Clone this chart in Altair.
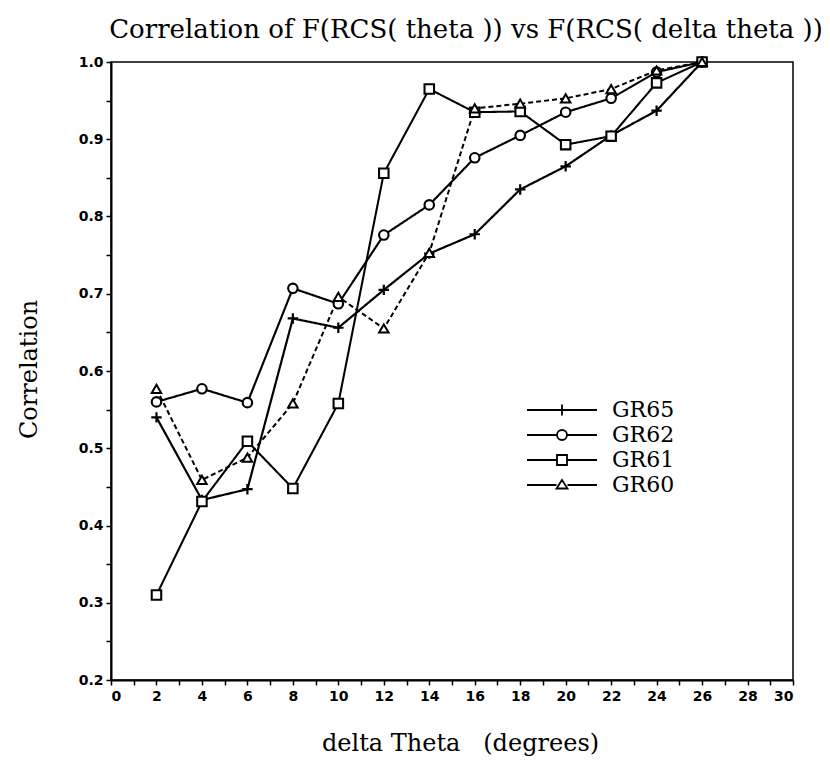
import altair as alt
import pandas as pd

# Angular offset between the two RCS patterns (degrees)
delta_theta = [2, 4, 6, 8, 10, 12, 14, 16, 18, 20, 22, 24, 26]

# Correlation coefficient for each target
gr65 = [0.540, 0.433, 0.447, 0.668, 0.656, 0.705, 0.752, 0.777, 0.835, 0.865, 0.905, 0.937, 1.000]
gr62 = [0.560, 0.577, 0.559, 0.707, 0.687, 0.776, 0.815, 0.876, 0.905, 0.935, 0.953, 0.987, 1.000]
gr61 = [0.310, 0.431, 0.509, 0.448, 0.558, 0.856, 0.965, 0.935, 0.936, 0.893, 0.904, 0.973, 1.000]
gr60 = [0.577, 0.459, 0.488, 0.558, 0.696, 0.655, 0.753, 0.940, 0.946, 0.953, 0.965, 0.989, 1.000]

series_names = ["GR65", "GR62", "GR61", "GR60"]

# Axis tick positions (labels only on the major ones)
x_ticks = [0, 1, 2, 3, 4, 5, 6, 7, 8, 9, 10, 11, 12, 13, 14, 15, 16, 17, 18, 19,
           20, 21, 22, 23, 24, 25, 26, 27, 28, 29, 30]
y_ticks = [0.2, 0.25, 0.3, 0.35, 0.4, 0.45, 0.5, 0.55, 0.6, 0.65, 0.7, 0.75, 0.8,
           0.85, 0.9, 0.95, 1.0]

rows = []
for name, vals in zip(series_names, [gr65, gr62, gr61, gr60]):
    for xv, yv in zip(delta_theta, vals):
        rows.append({"dtheta": xv, "corr": yv, "series": name})
df = pd.DataFrame(rows)

x_enc = alt.X(
    "dtheta:Q",
    scale=alt.Scale(domain=[0, 30], nice=False, zero=False),
    axis=alt.Axis(
        values=x_ticks,
        grid=False,
        labelExpr="datum.value % 2 == 0 ? datum.label : ''",
        labelOverlap=False,
        labelPadding=4,
        title="delta Theta\u00a0\u00a0 (degrees)",
        titleX=349,
        titleY=70,
        titleBaseline="alphabetic",
    ),
)
y_enc = alt.Y(
    "corr:Q",
    scale=alt.Scale(domain=[0.2, 1.0], nice=False, zero=False),
    axis=alt.Axis(
        values=y_ticks,
        grid=False,
        format=".1f",
        labelExpr="abs(datum.value * 10 - round(datum.value * 10)) < 0.001 ? datum.label : ''",
        labelOverlap=False,
        labelPadding=3,
        title="Correlation",
        titleX=-75,
        titleY=307,
        titleBaseline="alphabetic",
    ),
)

width_scale = alt.Scale(domain=series_names, range=[2.2, 2.0, 1.5, 1.0])

base = alt.Chart(df)

lines = base.mark_line(color="black").encode(
    x=x_enc,
    y=y_enc,
    detail="series:N",
    strokeWidth=alt.StrokeWidth("series:N", scale=width_scale, legend=None),
    strokeDash=alt.StrokeDash(
        "series:N",
        scale=alt.Scale(domain=series_names, range=[[1, 0], [1, 0], [1, 0], [5, 3]]),
        legend=None,
    ),
)

# plus, circle, square, triangle markers
point_shapes = ["M-1.1,0H1.1M0,-1.1V1.1", "circle", "square", "triangle-up"]

points = base.mark_point(fill="white", stroke="black", opacity=1, size=90).encode(
    x=x_enc,
    y=y_enc,
    shape=alt.Shape("series:N", scale=alt.Scale(domain=series_names, range=point_shapes), legend=None),
    strokeWidth=alt.StrokeWidth("series:N", scale=width_scale, legend=None),
)

# Legend keys: a horizontal line with the series marker in the middle
legend_paths = [
    "M-7,0H7M0,-1.1V1.1",
    "M-7,0H-1M1,0H7M-1,0A1,1,0,1,0,1,0A1,1,0,1,0,-1,0Z",
    "M-7,0H-1M1,0H7M-1,-1H1V1H-1Z",
    "M-7,0H-1.1M1.1,0H7M0,-1L1.1,0.7L-1.1,0.7Z",
]

legend_layer = base.transform_filter("datum.dtheta > 100").mark_point(
    color="black", size=100
).encode(
    shape=alt.Shape(
        "series:N",
        scale=alt.Scale(domain=series_names, range=legend_paths),
        legend=alt.Legend(
            title=None,
            orient="none",
            legendX=440,
            legendY=337,
            symbolSize=100,
            symbolStrokeWidth=1.8,
            symbolStrokeColor="black",
            symbolFillColor="white",
            symbolOpacity=1,
            labelFont="DejaVu Serif",
            labelFontSize=22,
            labelColor="black",
            labelOffset=39,
            labelLimit=0,
            rowPadding=3,
            padding=0,
        ),
    )
)

chart = (
    alt.layer(lines, points, legend_layer)
    .resolve_scale(shape="independent")
    .properties(
        width=682,
        height=618,
        background="white",
        padding={"left": 111, "top": 62, "right": 37, "bottom": 82},
        autosize=alt.AutoSizeParams(type="none"),
        title=alt.TitleParams(
            text="Correlation of F(RCS( theta )) vs F(RCS( delta theta ))",
            font="DejaVu Serif",
            fontSize=26,
            fontWeight="normal",
            color="black",
            anchor="middle",
            offset=9,
            dx=14,
        ),
    )
    .configure_view(stroke="black", strokeWidth=1.5)
    .configure_axis(
        grid=False,
        domainColor="black",
        domainWidth=2,
        tickColor="black",
        tickWidth=1.5,
        tickSize=5,
        labelFont="DejaVu Sans",
        labelFontWeight="bold",
        labelFontSize=14,
        labelColor="black",
        titleFont="DejaVu Serif",
        titleFontSize=24,
        titleFontWeight="normal",
        titleColor="black",
    )
)

chart.save("out.html", embed_options={"renderer": "svg", "actions": False})
